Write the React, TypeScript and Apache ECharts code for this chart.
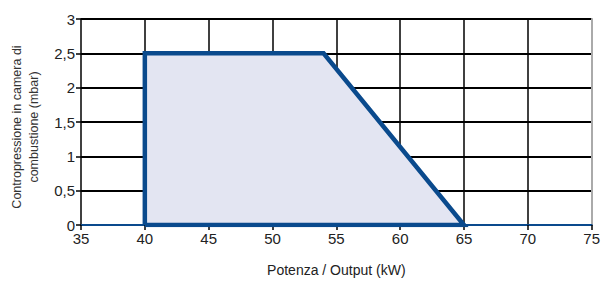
import React, { useEffect, useRef } from "react";
import * as echarts from "echarts";

const xTicks = [35, 40, 45, 50, 55, 60, 65, 70, 75];
const yTicks = [0, 0.5, 1, 1.5, 2, 2.5, 3];
const outputKW = [40, 40, 54, 65, 40];
const pressureMbar = [0, 2.5, 2.5, 0, 0];
const xName = "Potenza / Output (kW)";
const yNameLines = ["Contropressione in camera di", "combustione (mbar)"];

const FONT = "'Liberation Sans Narrow', 'Arial Narrow', 'Liberation Sans', Arial, sans-serif";
const BLUE = "#0a4a8d";

export default function App() {
  const ref = useRef<HTMLDivElement>(null);
  useEffect(() => {
    if (!ref.current) return;
    const chart = echarts.init(ref.current, null, { renderer: "svg" });
    const data = outputKW.map((x, i) => [x, pressureMbar[i]]);
    chart.setOption({
      animation: false,
      backgroundColor: "#ffffff",
      grid: { left: 81, right: 9, top: 19, bottom: 57 },
      graphic: yNameLines.map((t, i) => ({
        type: "text",
        x: 17 + i * 17,
        y: 127,
        rotation: Math.PI / 2,
        style: {
          text: t,
          fontFamily: FONT,
          fontSize: 12.5,
          fill: "#333",
          align: "center",
          textAlign: "center",
          verticalAlign: "middle",
          textVerticalAlign: "middle",
        },
      })),
      xAxis: {
        type: "value",
        min: xTicks[0],
        max: xTicks[xTicks.length - 1],
        interval: 5,
        name: xName,
        nameLocation: "middle",
        nameGap: 38,
        nameTextStyle: { fontFamily: FONT, fontSize: 14, color: "#222" },
        axisLine: { show: true, onZero: false, lineStyle: { color: BLUE, width: 2 } },
        axisTick: { show: true, length: 5, lineStyle: { color: "#000", width: 1.5 } },
        axisLabel: { fontFamily: FONT, fontSize: 15, color: "#222", margin: 6 },
        splitLine: { show: true, showMinLine: false, showMaxLine: false, lineStyle: { color: "#000", width: 1.5 } },
      },
      yAxis: [
        {
          type: "value",
          min: yTicks[0],
          max: yTicks[yTicks.length - 1],
          interval: 0.5,
          axisLine: { show: true, lineStyle: { color: "#000", width: 1.5 } },
          axisTick: { show: true, length: 5, lineStyle: { color: "#000", width: 1.5 } },
          axisLabel: {
            fontFamily: FONT,
            fontSize: 15,
            color: "#222",
            margin: 6,
            formatter: (v: number) => String(v).replace(".", ","),
          },
          splitLine: { show: true, showMinLine: false, lineStyle: { color: "#000", width: 1.8 } },
        },
        {
          type: "value",
          position: "right",
          min: yTicks[0],
          max: yTicks[yTicks.length - 1],
          interval: 0.5,
          axisLine: { show: true, lineStyle: { color: "#aaaaaa", width: 2 } },
          axisTick: { show: false },
          axisLabel: { show: false },
          splitLine: { show: false },
        },
      ],
      series: [
        {
          type: "line",
          data,
          symbol: "none",
          lineStyle: { color: BLUE, width: 4.5, join: "miter" },
          areaStyle: { color: "#e3e5f2", opacity: 1, origin: "start" },
          z: 5,
        },
      ],
    });
    return () => chart.dispose();
  }, []);
  return (
    <div
      ref={ref}
      style={{ position: "fixed", left: 0, top: 0, width: 603, height: 282 }}
    />
  );
}
